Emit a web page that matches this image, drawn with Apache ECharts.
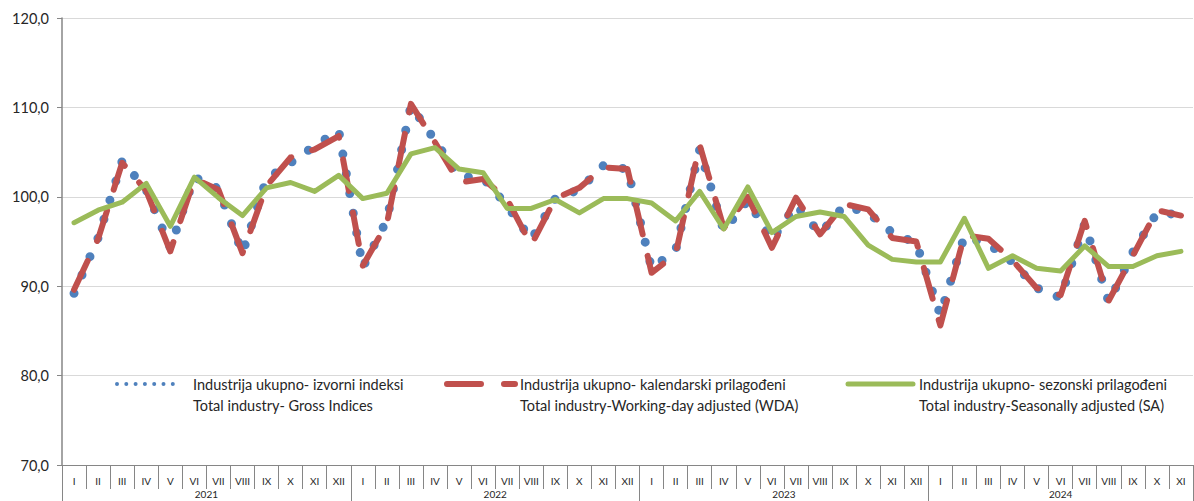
<!DOCTYPE html>
<html>
<head>
<meta charset="utf-8">
<script src="https://cdn.jsdelivr.net/npm/echarts@6/dist/echarts.min.js"></script>
<style>
html,body{margin:0;padding:0;background:#fff;overflow:hidden;width:1194px;height:501px;}
#chart{width:1194px;height:501px;overflow:hidden;}
</style>
</head>
<body>
<div id="chart"></div>
<script>
// time axis: 2021-I .. 2024-XI
var years = ['2021', '2022', '2023', '2024'];
var monthsInYear = [12, 12, 12, 11];
var months = ['I', 'II', 'III', 'IV', 'V', 'VI', 'VII', 'VIII', 'IX', 'X', 'XI', 'XII'];

// Industrija ukupno- izvorni indeksi / Total industry- Gross Indices
var grossIndex = [89.2, 95.4, 104.0, 100.8, 94.3, 102.2, 100.9, 93.7, 102.0, 103.8, 105.7, 107.4,
                  92.1, 97.4, 110.2, 106.3, 102.3, 102.1, 99.0, 95.2, 99.8, 100.8, 103.5, 103.1,
                  92.0, 94.0, 105.3, 96.2, 99.6, 95.2, 99.1, 95.9, 99.0, 98.2, 96.0, 94.8,
                  86.8, 95.6, 94.7, 92.7, 89.8, 88.7, 97.0, 88.2, 93.8, 98.2, 98.0];
// Industrija ukupno- kalendarski prilagodjeni / Working-day adjusted (WDA)
var wdaIndex = [89.6, 95.3, 103.8, 100.7, 93.9, 102.0, 100.8, 93.7, 101.2, 104.4, 105.3, 106.8,
                92.3, 97.0, 110.4, 106.1, 101.6, 102.0, 99.7, 94.6, 99.8, 101.0, 103.3, 103.1,
                91.5, 93.6, 105.8, 96.5, 100.0, 94.3, 99.9, 95.8, 99.2, 98.6, 95.4, 95.0,
                85.6, 95.7, 95.3, 92.9, 89.8, 89.0, 97.3, 88.4, 93.4, 98.5, 97.9];
// Industrija ukupno- sezonski prilagodjeni / Seasonally adjusted (SA)
var saIndex = [97.1, 98.5, 99.4, 101.5, 96.7, 102.2, 99.9, 97.9, 101.0, 101.6, 100.6, 102.4,
               99.8, 100.4, 104.8, 105.5, 103.1, 102.7, 98.7, 98.7, 99.7, 98.2, 99.8, 99.8,
               99.3, 97.3, 100.6, 96.4, 101.1, 96.0, 97.8, 98.3, 97.8, 94.6, 93.0, 92.7,
               92.7, 97.6, 92.0, 93.4, 92.0, 91.7, 94.5, 92.2, 92.2, 93.4, 93.9];

var seriesNames = ['Industrija ukupno- izvorni indeksi', 'Industrija ukupno- kalendarski prilagođeni', 'Industrija ukupno- sezonski prilagođeni'];
var seriesNamesEn = ['Total industry- Gross Indices', 'Total industry-Working-day adjusted (WDA)', 'Total industry-Seasonally adjusted (SA)'];
var colors = ['#4F81BD', '#C0504D', '#9BBB59'];

var yMin = 70, yMax = 120, yStep = 10;

var FONT = 'Lato';

// build categories and year boundaries
var categories = [];
var yearStart = [];
var yearMid = {};
for (var y = 0; y < years.length; y++) {
	yearStart.push(categories.length);
	yearMid[categories.length + Math.floor(monthsInYear[y] / 2)] = {year: years[y], even: monthsInYear[y] % 2 == 0};
	for (var m = 0; m < monthsInYear[y]; m++) {
		categories.push(years[y] + '|' + months[m]);
	}
}

var chart = echarts.init(document.getElementById('chart'), null, {renderer: 'svg'});

// legend drawn by hand: icon on first text line, english text below
function legendItem(iconX1, iconX2, textX, idx, lineStyle) {
	var cy = 384;
	return [
		{
			type: 'line',
			shape: {x1: iconX1, y1: cy, x2: iconX2, y2: cy},
			style: lineStyle
		},
		{
			type: 'text', x: textX, y: cy,
			style: {text: seriesNames[idx], fill: '#262626', font: '14.5px ' + FONT, verticalAlign: 'middle'}
		},
		{
			type: 'text', x: textX, y: cy + 21,
			style: {text: seriesNamesEn[idx], fill: '#262626', font: '14.5px ' + FONT, verticalAlign: 'middle'}
		}
	];
}

var graphics = []
	.concat(legendItem(117, 181, 193, 0, {stroke: colors[0], lineWidth: 4, lineDash: [0, 9.3], lineCap: 'round'}))
	.concat(legendItem(447, 515, 520, 1, {stroke: colors[1], lineWidth: 6, lineDash: [34, 23], lineCap: 'round'}))
	.concat(legendItem(848, 913, 919, 2, {stroke: colors[2], lineWidth: 5, lineCap: 'round'}));

var option = {
	animation: false,
	backgroundColor: '#fff',
	grid: {left: 62, right: 1, top: 18, bottom: 36, containLabel: false, outerBoundsMode: 'none'},
	xAxis: [
		{
			type: 'category',
			data: categories,
			boundaryGap: true,
			axisLine: {lineStyle: {color: '#868686', width: 1}},
			axisTick: {show: true, interval: 0, length: 24, lineStyle: {color: '#868686'}},
			axisLabel: {
				interval: 0, margin: 11, color: '#262626', fontFamily: FONT, fontSize: 10,
				formatter: function (v) { return v.split('|')[1]; }
			},
			splitLine: {show: false}
		},
		{
			type: 'category',
			data: categories,
			position: 'bottom',
			boundaryGap: true,
			axisLine: {show: false},
			axisTick: {
				show: true, length: 40, lineStyle: {color: '#868686'},
				interval: function (idx) { return yearStart.indexOf(idx) >= 0; }
			},
			axisLabel: {
				margin: 24, color: '#262626', fontFamily: FONT, fontSize: 10,
				interval: function (idx) { return yearMid[idx] !== undefined; },
				formatter: function (v, idx) {
					var info = yearMid[idx];
					if (!info) return '';
					return info.even ? '{l|' + info.year + '}' : info.year;
				},
				rich: {l: {padding: [0, 24, 0, 0], fontFamily: FONT, fontSize: 10, color: '#262626'}}
			},
			splitLine: {show: false}
		}
	],
	yAxis: {
		type: 'value',
		min: yMin, max: yMax, interval: yStep,
		axisLine: {show: true, lineStyle: {color: '#868686', width: 1.5}},
		axisTick: {show: true, length: 5, lineStyle: {color: '#868686'}},
		axisLabel: {
			margin: 13, color: '#262626', fontFamily: FONT, fontSize: 14.5,
			formatter: function (v) { return v.toFixed(1).replace('.', ','); }
		},
		splitLine: {lineStyle: {color: '#D9D9D9', width: 1}}
	},
	series: [
		{
			name: seriesNames[0], type: 'line', data: grossIndex, xAxisIndex: 0,
			symbol: 'none', smooth: false,
			lineStyle: {color: colors[0], width: 9, type: [0, 20], cap: 'round'}
		},
		{
			name: seriesNames[1], type: 'line', data: wdaIndex, xAxisIndex: 0,
			symbol: 'none', smooth: false,
			lineStyle: {color: colors[1], width: 6, type: [32, 22], cap: 'round', join: 'round'}
		},
		{
			name: seriesNames[2], type: 'line', data: saIndex, xAxisIndex: 0,
			symbol: 'none', smooth: false,
			lineStyle: {color: colors[2], width: 5, cap: 'round', join: 'round'}
		}
	],
	graphic: graphics
};

chart.setOption(option);
</script>
</body>
</html>
